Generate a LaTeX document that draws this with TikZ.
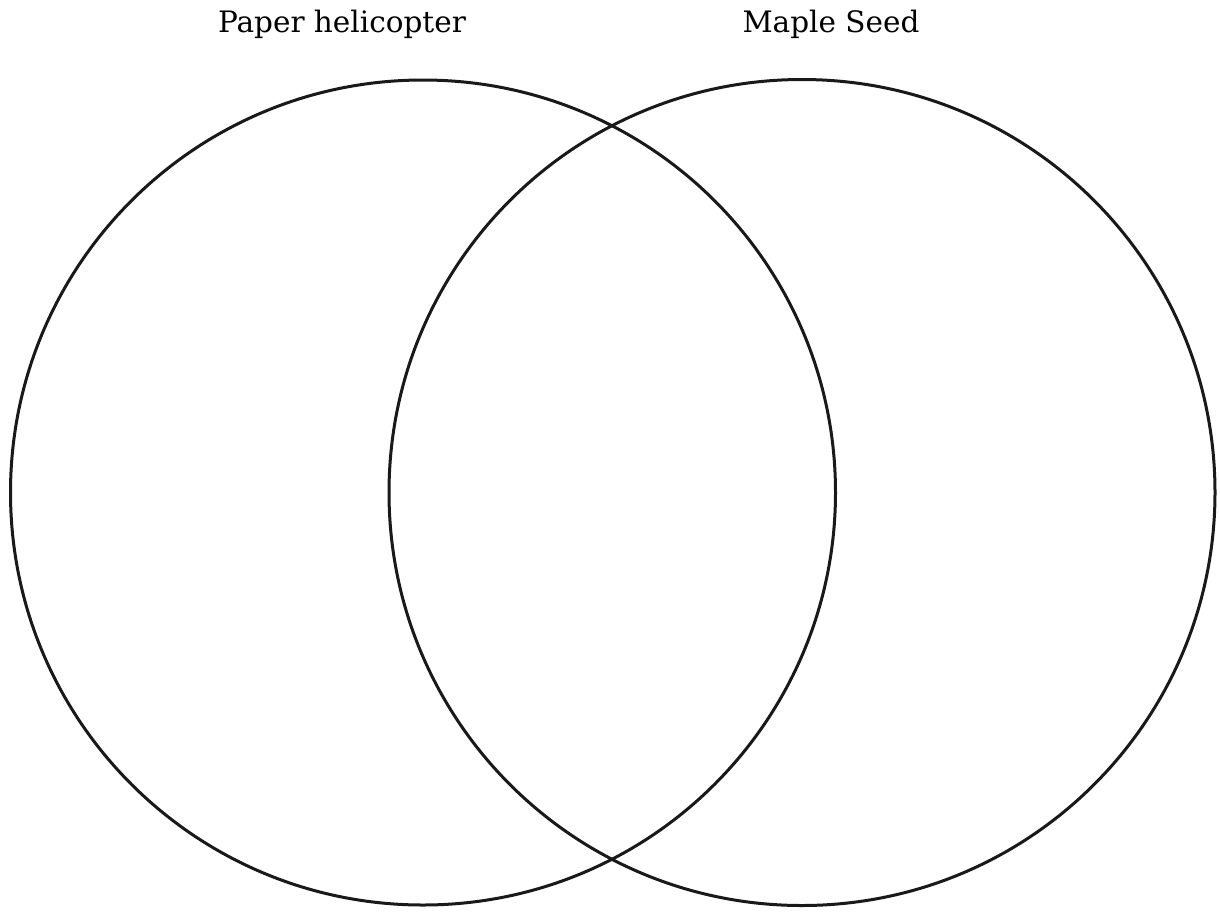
\documentclass[tikz,border=0pt]{standalone}
\usepackage{fontspec}
\setmainfont{DejaVu Serif}
\begin{document}
\begin{tikzpicture}[x=1pt,y=-1pt,
  vcircle/.style={draw=black!90,line width=3pt},
  title/.style={anchor=base,font=\fontsize{29.5}{34}\selectfont,inner sep=0pt}]
\useasboundingbox (0,0) rectangle (1220,911);
\node[vcircle,circle,minimum size=825pt,inner sep=0pt] (L) at (423,492.5) {};
\node[vcircle,circle,minimum size=826pt,inner sep=0pt] (R) at (802,492.5) {};
\node[title] (tl) at (342,32) {Paper helicopter};
\node[title] (tr) at (831,32) {Maple Seed};
\end{tikzpicture}
\end{document}
